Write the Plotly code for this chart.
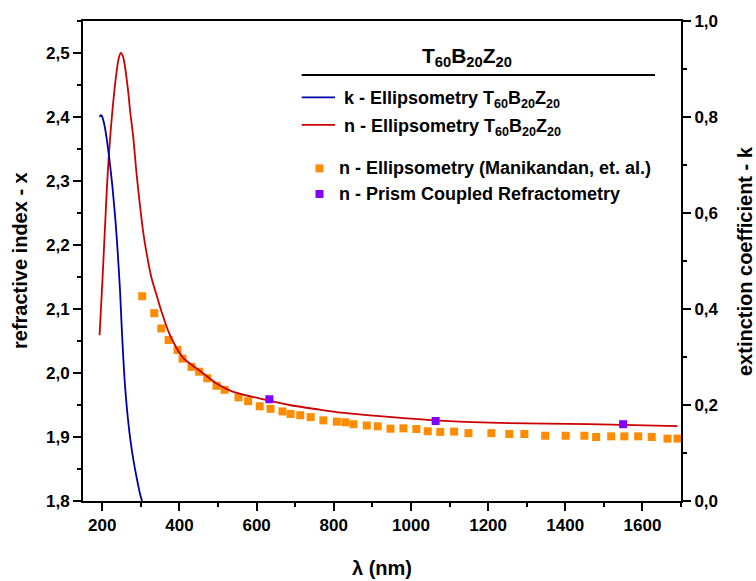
import plotly.graph_objects as go

# ---- data ----
n_ellip_wl = [193, 196, 200, 204, 208, 212, 217, 222, 227, 232, 237, 242, 248, 253, 258, 263,
              268, 272, 280, 289, 298, 306, 314, 327, 340, 353, 374, 409, 452, 495, 538,
              625, 685, 760, 820, 910, 1063, 1229, 1462, 1691]
n_ellip = [2.059, 2.095, 2.140, 2.190, 2.240, 2.290, 2.340, 2.380, 2.415, 2.445, 2.470, 2.490,
           2.500, 2.496, 2.482, 2.460, 2.435, 2.410, 2.370, 2.310, 2.260, 2.220, 2.190, 2.150,
           2.123, 2.097, 2.061, 2.024, 2.004, 1.984, 1.971, 1.958, 1.950, 1.943, 1.938, 1.933,
           1.926, 1.922, 1.920, 1.917]

k_ellip_wl = [193, 196, 199, 203, 207, 211, 216, 221, 226, 230, 234, 238, 242, 246, 250, 254,
              258, 262, 266, 271, 277, 284, 292, 298, 303]
k_ellip = [0.800, 0.804, 0.802, 0.792, 0.777, 0.757, 0.728, 0.694, 0.657, 0.622, 0.585, 0.542,
           0.492, 0.438, 0.368, 0.305, 0.250, 0.209, 0.175, 0.139, 0.104, 0.070, 0.037, 0.014, 0.0]

mani_wl = [303.6, 334.7, 352.8, 371.8, 395, 408, 431.3, 451, 472, 496, 516.8, 553, 578, 608,
           636, 667, 688, 713, 740, 773, 808, 830, 851, 885.5, 914, 947, 980.6, 1014, 1043.5,
           1076, 1112, 1149, 1208.5, 1255, 1294, 1348, 1401, 1449.5, 1480, 1519, 1553, 1589,
           1624, 1665, 1691]
mani_n = [2.120, 2.0935, 2.0696, 2.0515, 2.036, 2.0224, 2.0095, 2.002, 1.9918, 1.980, 1.9737,
          1.962, 1.956, 1.948, 1.944, 1.940, 1.936, 1.934, 1.931, 1.926, 1.924, 1.923, 1.920,
          1.918, 1.9167, 1.913, 1.9135, 1.9125, 1.909, 1.908, 1.9084, 1.906, 1.906, 1.9047,
          1.9047, 1.902, 1.902, 1.902, 1.900, 1.901, 1.901, 1.901, 1.900, 1.8975, 1.8975]

prism_wl = [633, 1064, 1550]
prism_n = [1.959, 1.925, 1.920]

x_ticks = [200, 400, 600, 800, 1000, 1200, 1400, 1600]

RED = "#CC0000"
BLUE = "#0000AA"
ORANGE = "#FF8C00"
PURPLE = "#8000FF"
FONT = "Liberation Sans"

fig = go.Figure()
fig.add_trace(go.Scatter(x=mani_wl, y=mani_n, mode="markers",
                         marker=dict(symbol="square", size=8, color=ORANGE),
                         name="n - Ellipsometry (Manikandan, et. al.)"))
fig.add_trace(go.Scatter(x=n_ellip_wl, y=n_ellip, mode="lines",
                         line=dict(color=RED, width=1.8, shape="spline", smoothing=0.8),
                         name="n - Ellipsometry"))
fig.add_trace(go.Scatter(x=k_ellip_wl, y=k_ellip, mode="lines", yaxis="y2",
                         line=dict(color=BLUE, width=1.8, shape="spline", smoothing=0.8),
                         name="k - Ellipsometry"))
fig.add_trace(go.Scatter(x=prism_wl, y=prism_n, mode="markers",
                         marker=dict(symbol="square", size=8, color=PURPLE),
                         name="n - Prism Coupled Refractometry"))

# plot area geometry in px
L, R, T, B = 83, 681, 19, 501
W, H = R - L, B - T
def px(x):
    return (x - L) / W
def py(y):
    return (B - y) / H

tickfont = dict(family=FONT, size=17, color="black", weight="bold")
axis_common = dict(showgrid=False, zeroline=False, showline=True, linecolor="black",
                   linewidth=2, ticks="outside", ticklen=8, tickwidth=2, tickcolor="black",
                   tickfont=tickfont)

fig.update_layout(
    width=756, height=581,
    margin=dict(l=L, r=756 - R, t=T, b=581 - B),
    paper_bgcolor="white", plot_bgcolor="white",
    separators=",.",
    showlegend=False,
    font=dict(family=FONT, color="black"),
    xaxis=dict(range=[150, 1700], tickvals=x_ticks, tickformat="d", mirror=True,
               minor=dict(dtick=100, tick0=100, ticks="outside", ticklen=4, tickwidth=2,
                          tickcolor="black"),
               **axis_common),
    yaxis=dict(range=[1.8, 2.55], dtick=0.1, tick0=1.8, tickformat=".1f",
               minor=dict(dtick=0.05, tick0=1.8, ticks="outside", ticklen=4, tickwidth=2,
                          tickcolor="black"),
               **axis_common),
    yaxis2=dict(range=[0, 1.0], dtick=0.2, tick0=0, tickformat=".1f", overlaying="y",
                side="right",
                minor=dict(dtick=0.1, tick0=0, ticks="outside", ticklen=4, tickwidth=2,
                           tickcolor="black"),
                **axis_common),
)

titlefont = dict(family=FONT, size=20, color="black", weight="bold")
legfont = dict(family=FONT, size=18, color="black", weight="bold")
ann = [
    dict(text="refractive index - x", x=px(20), y=0.5, textangle=-90, font=titlefont),
    dict(text="extinction coefficient - k", x=px(745), y=0.5, textangle=-90, font=titlefont),
    dict(text="λ (nm)", x=0.5, y=py(568), font=titlefont),
    dict(text="T<sub>60</sub>B<sub>20</sub>Z<sub>20</sub>", x=px(467), y=py(55),
         font=dict(family=FONT, size=21, color="black", weight="bold")),
    dict(text="k - Ellipsometry T<sub>60</sub>B<sub>20</sub>Z<sub>20</sub>", x=px(342),
         y=py(98), xanchor="left", font=legfont),
    dict(text="n - Ellipsometry T<sub>60</sub>B<sub>20</sub>Z<sub>20</sub>", x=px(342),
         y=py(126), xanchor="left", font=legfont),
    dict(text="n - Ellipsometry (Manikandan, et. al.)", x=px(337), y=py(167),
         xanchor="left", font=legfont),
    dict(text="n - Prism Coupled Refractometry", x=px(337), y=py(192.7),
         xanchor="left", font=legfont),
]
for a in ann:
    a.setdefault("xanchor", "center")
    fig.add_annotation(xref="paper", yref="paper", showarrow=False, yanchor="middle", **a)

shapes = [
    dict(type="line", x0=px(301.7), x1=px(655), y0=py(73.3), y1=py(73.3),
         line=dict(color="black", width=2)),
    dict(type="line", x0=px(301.7), x1=px(335), y0=py(95.7), y1=py(95.7),
         line=dict(color=BLUE, width=1.8)),
    dict(type="line", x0=px(301.7), x1=px(335), y0=py(123.3), y1=py(123.3),
         line=dict(color=RED, width=1.8)),
    dict(type="rect", x0=px(315.5), x1=px(323.5), y0=py(163), y1=py(171),
         fillcolor=ORANGE, line=dict(width=0)),
    dict(type="rect", x0=px(315.5), x1=px(323.5), y0=py(188.7), y1=py(196.7),
         fillcolor=PURPLE, line=dict(width=0)),
]
for s in shapes:
    fig.add_shape(xref="paper", yref="paper", **s)

fig.write_html("out.html")
